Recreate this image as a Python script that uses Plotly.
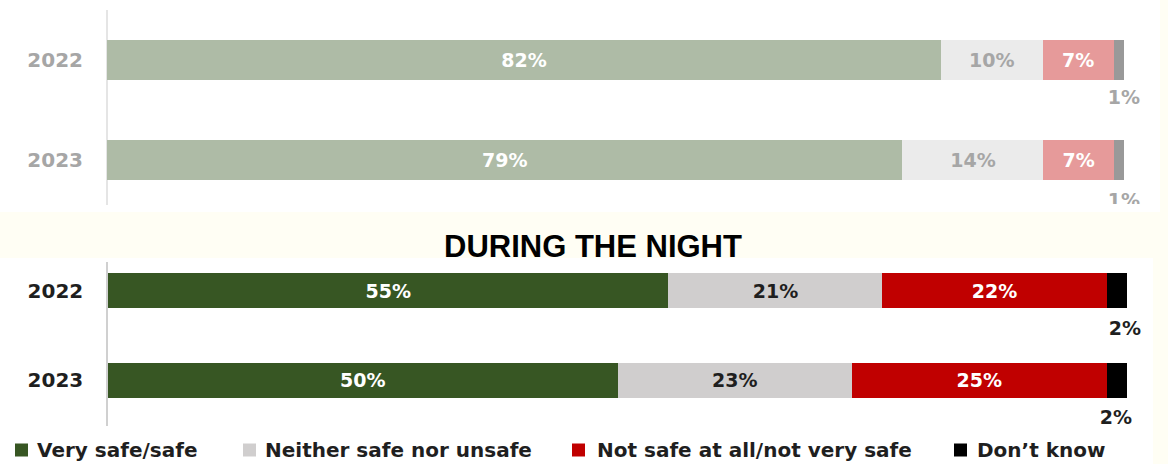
import plotly.graph_objects as go

# ---- data -------------------------------------------------------------
years = ["2022", "2023"]
categories = ["Very safe/safe", "Neither safe nor unsafe",
              "Not safe at all/not very safe", "Don't know"]

# during the day (upper, muted panel)
day_safe = [82, 79]
day_neither = [10, 14]
day_unsafe = [7, 7]
day_dontknow = [1, 1]

# during the night
night_safe = [55, 50]
night_neither = [21, 23]
night_unsafe = [22, 25]
night_dontknow = [2, 2]

title_text = "DURING THE NIGHT"

# ---- styling ----------------------------------------------------------
W, H = 1168, 464
CREAM = "#FFFEF4"
FONT = "DejaVu Sans"

day_colors = ["#AEBBA6", "#EBEBEB", "#E69A9A", "#999999"]
day_text = ["white", "#A6A6A6", "white", "#A6A6A6"]
night_colors = ["#375623", "#D0CECE", "#C00000", "#000000"]
night_text = ["white", "#1F1F1F", "white", "#1F1F1F"]


def fx(px):
    return px / W


def fy(py):
    return 1 - py / H


# upper panel: bars span 107..1124 px, plot area runs on to 1160 px so the
# end labels are only clipped at the bottom edge of the panel
DAY_X0, DAY_X100, DAY_XEND = 107, 1124, 1160
DAY_TOP, DAY_BOTTOM = 10, 204
day_xmax = 100 * (DAY_XEND - DAY_X0) / (DAY_X100 - DAY_X0)

fig = go.Figure()
ypos = [0, 1]

day_series = [day_safe, day_neither, day_unsafe, day_dontknow]
night_series = [night_safe, night_neither, night_unsafe, night_dontknow]

for i, (name, vals) in enumerate(zip(categories, day_series)):
    inside = i < 3
    fig.add_trace(go.Bar(
        y=ypos, x=vals, orientation="h", name=name, showlegend=False,
        marker=dict(color=day_colors[i], line=dict(width=0)),
        width=0.4,
        text=[f"{v}%" for v in vals] if inside else None,
        textposition="inside", insidetextanchor="middle", textangle=0,
        constraintext="none",
        textfont=dict(family=FONT, size=19, color=day_text[i], weight="bold"),
        xaxis="x", yaxis="y", hoverinfo="skip",
    ))

for i, (name, vals) in enumerate(zip(categories, night_series)):
    inside = i < 3
    fig.add_trace(go.Bar(
        y=ypos, x=vals, orientation="h", name=name, showlegend=False,
        marker=dict(color=night_colors[i], line=dict(width=0)),
        width=0.39,
        text=[f"{v}%" for v in vals] if inside else None,
        textposition="inside", insidetextanchor="middle", textangle=0,
        constraintext="none",
        textfont=dict(family=FONT, size=19, color=night_text[i], weight="bold"),
        xaxis="x2", yaxis="y2", hoverinfo="skip",
    ))

# small "don't know" shares are labelled just below the end of each bar
fig.add_trace(go.Scatter(
    x=[100, 100], y=[0.39, 1.42], mode="text",
    text=[f"{v}%" for v in day_dontknow], textposition="middle center",
    textfont=dict(family=FONT, size=19, color="#A6A6A6", weight="bold"),
    cliponaxis=True, showlegend=False, hoverinfo="skip",
    xaxis="x", yaxis="y",
))
fig.add_trace(go.Scatter(
    x=[99.8, 98.9], y=[0.44, 1.43], mode="text",
    text=[f"{v}%" for v in night_dontknow], textposition="middle center",
    textfont=dict(family=FONT, size=19, color="#1F1F1F", weight="bold"),
    cliponaxis=False, showlegend=False, hoverinfo="skip",
    xaxis="x2", yaxis="y2",
))

shapes = [
    dict(type="rect", xref="paper", yref="paper", layer="below",
         x0=fx(0), x1=fx(1160), y0=fy(212), y1=fy(0),
         fillcolor="white", line=dict(width=0)),
    dict(type="rect", xref="paper", yref="paper", layer="below",
         x0=fx(0), x1=fx(1153), y0=fy(464), y1=fy(258),
         fillcolor="white", line=dict(width=0)),
    # the upper panel's category axis line
    dict(type="line", xref="paper", yref="paper", layer="below",
         x0=fx(DAY_X0), x1=fx(DAY_X0), y0=fy(205), y1=fy(DAY_TOP),
         line=dict(color="#DDDDDD", width=1.5)),
]

annotations = [
    dict(text=f"<b>{title_text}</b>", xref="paper", yref="paper",
         x=fx(593), y=fy(246), xanchor="center", yanchor="middle",
         showarrow=False,
         font=dict(family="Liberation Sans, Arial", size=31, color="black")),
]

# legend row
legend_marker_x = [15, 243, 572, 954]
legend_text_x = [35, 263, 595, 975]
for name, col, mx, tx in zip(categories, night_colors, legend_marker_x, legend_text_x):
    shapes.append(dict(type="rect", xref="paper", yref="paper",
                       x0=fx(mx), x1=fx(mx + 13), y0=fy(456.5), y1=fy(443.5),
                       fillcolor=col, line=dict(width=0)))
    annotations.append(dict(text=name.replace("'", "\u2019"), xref="paper", yref="paper",
                            x=fx(tx), y=fy(450), xanchor="left", yanchor="middle",
                            showarrow=False,
                            font=dict(family=FONT, size=20, color="#1F1F1F",
                                      weight="bold")))

axis_common = dict(showgrid=False, zeroline=False, fixedrange=True)

fig.update_layout(
    width=W, height=H,
    margin=dict(l=0, r=0, t=0, b=0),
    paper_bgcolor=CREAM, plot_bgcolor="rgba(0,0,0,0)",
    barmode="stack", barnorm="percent",
    showlegend=False,
    xaxis=dict(domain=[fx(DAY_X0), fx(DAY_XEND)], range=[0, day_xmax],
               visible=False, anchor="y", **axis_common),
    yaxis=dict(domain=[fy(DAY_BOTTOM), fy(DAY_TOP)],
               range=[1 + (DAY_BOTTOM - 160) / 100, -0.5],
               tickvals=ypos, ticktext=years, anchor="x",
               showline=False,
               ticks="", ticklabelstandoff=23,
               tickfont=dict(family=FONT, size=20, color="#A6A6A6",
                             weight="bold"),
               **axis_common),
    xaxis2=dict(domain=[fx(108), fx(1127)], range=[0, 100], visible=False,
                anchor="y2", **axis_common),
    yaxis2=dict(domain=[fy(426), fy(262)], range=[1.506, -0.317],
                tickvals=ypos, ticktext=years, anchor="x2",
                showline=True, linecolor="#D0D0D0", linewidth=1.5,
                ticks="", ticklabelstandoff=19,
                tickfont=dict(family=FONT, size=20, color="#1F1F1F",
                              weight="bold"),
                **axis_common),
    shapes=shapes,
    annotations=annotations,
)

fig.write_html("out.html")
